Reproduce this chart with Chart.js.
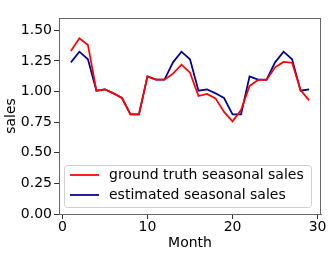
<!DOCTYPE html>
<html>
<head>
<meta charset="utf-8">
<script src="https://cdn.jsdelivr.net/npm/chart.js@4/dist/chart.umd.min.js"></script>
<style>
html,body{margin:0;padding:0;background:#fff;}
#c{display:block;}
</style>
</head>
<body>
<canvas id="c" width="332" height="255"></canvas>
<script>
const months = [1,2,3,4,5,6,7,8,9,10,11,12,13,14,15,16,17,18,19,20,21,22,23,24,25,26,27,28,29];
const groundTruth = [1.33,1.435,1.38,1.007,1.018,0.985,0.947,0.814,0.814,1.124,1.097,1.097,1.146,1.219,1.154,0.963,0.98,0.944,0.833,0.756,0.849,1.045,1.094,1.094,1.197,1.241,1.235,1.012,0.928];
const estimated = [1.238,1.325,1.263,1.007,1.018,0.985,0.947,0.814,0.814,1.124,1.097,1.097,1.238,1.325,1.263,1.007,1.018,0.985,0.947,0.814,0.814,1.124,1.097,1.097,1.238,1.325,1.263,1.007,1.018];
const xTicks = [0,10,20,30];
const yTicks = [0,0.25,0.5,0.75,1.0,1.25,1.5];
const seriesLabels = ['ground truth seasonal sales','estimated seasonal sales'];
const seriesColors = ['#ff0000','#00008b'];

const FONT = 'DejaVu Sans';

const framePlugin = {
  id: 'frame',
  afterDatasetsDraw(chart) {
    const {ctx, chartArea: a} = chart;
    ctx.save();
    ctx.strokeStyle = '#666';
    ctx.lineWidth = 1;
    ctx.strokeRect(Math.round(a.left) + 0.5, Math.round(a.top) + 0.5, Math.round(a.right - a.left) - 1, Math.round(a.bottom - a.top));
    ctx.restore();
  }
};

const legendPlugin = {
  id: 'insideLegend',
  afterDraw(chart) {
    const {ctx, chartArea: a} = chart;
    const x0 = a.left + 5, y0 = a.bottom - 49, w = 247, h = 42;
    ctx.save();
    ctx.beginPath();
    if (ctx.roundRect) ctx.roundRect(x0 + 0.5, y0 + 0.5, w, h, 3); else ctx.rect(x0 + 0.5, y0 + 0.5, w, h);
    ctx.fillStyle = 'rgba(255,255,255,0.8)';
    ctx.fill();
    ctx.strokeStyle = '#d0d0d0';
    ctx.lineWidth = 1;
    ctx.stroke();
    ctx.font = '14px "' + FONT + '"';
    ctx.textBaseline = 'middle';
    ctx.fillStyle = '#000';
    chart.data.datasets.forEach((ds, i) => {
      const y = y0 + 10 + i * 20;
      ctx.beginPath();
      ctx.moveTo(x0 + 6, y);
      ctx.lineTo(x0 + 35, y);
      ctx.strokeStyle = ds.borderColor;
      ctx.lineWidth = 1.75;
      ctx.stroke();
      ctx.fillText(ds.label, x0 + 45, y);
    });
    ctx.restore();
  }
};

new Chart(document.getElementById('c'), {
  type: 'line',
  data: {
    datasets: [
      {label: seriesLabels[0], data: months.map((m, i) => ({x: m, y: groundTruth[i]})), borderColor: seriesColors[0], backgroundColor: seriesColors[0], borderWidth: 1.75, pointRadius: 0, tension: 0, fill: false},
      {label: seriesLabels[1], data: months.map((m, i) => ({x: m, y: estimated[i]})), borderColor: seriesColors[1], backgroundColor: seriesColors[1], borderWidth: 1.75, pointRadius: 0, tension: 0, fill: false}
    ]
  },
  options: {
    responsive: false,
    animation: false,
    devicePixelRatio: 1,
    layout: {padding: {top: 18, right: 11, left: 0, bottom: 0}},
    plugins: {legend: {display: false}, tooltip: {enabled: false}},
    scales: {
      x: {
        type: 'linear',
        min: -0.4, max: 30.4,
        afterBuildTicks: s => { s.ticks = xTicks.map(v => ({value: v})); },
        afterFit: s => { s.height = 41; },
        grid: {drawOnChartArea: false, drawTicks: true, tickLength: 5, color: '#333'},
        border: {display: true, color: '#666'},
        ticks: {color: '#000', font: {family: FONT, size: 14}, padding: 0, maxRotation: 0, callback: v => String(v)},
        title: {display: true, text: 'Month', color: '#000', font: {family: FONT, size: 14}, padding: {top: 0, bottom: 3}}
      },
      y: {
        min: 0, max: 1.6,
        afterBuildTicks: s => { s.ticks = yTicks.map(v => ({value: v})); },
        afterFit: s => { s.width = 59; },
        grid: {drawOnChartArea: false, drawTicks: true, tickLength: 5, color: '#333'},
        border: {display: true, color: '#666'},
        ticks: {color: '#000', font: {family: FONT, size: 14}, padding: 2, callback: v => Number(v).toFixed(2)},
        title: {display: true, text: 'sales', color: '#000', font: {family: FONT, size: 14}, padding: {top: 3, bottom: 0}}
      }
    }
  },
  plugins: [framePlugin, legendPlugin]
});
</script>
</body>
</html>
